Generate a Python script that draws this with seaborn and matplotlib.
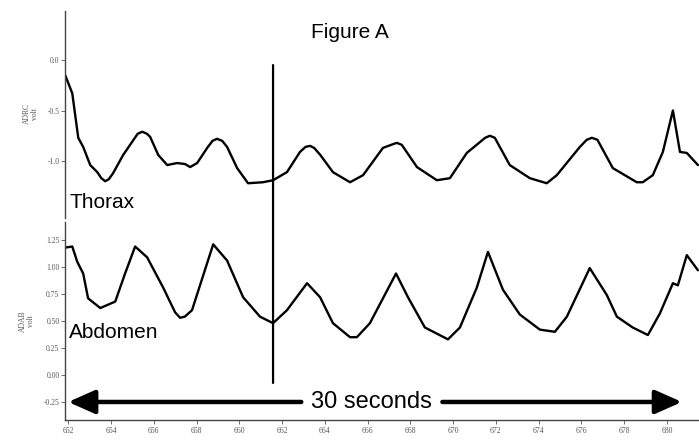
import numpy as np
import pandas as pd
import matplotlib
matplotlib.use('Agg')
import matplotlib.pyplot as plt
from matplotlib.patches import ConnectionPatch
import seaborn as sns

# Trace values (time in s, amplitude in volt)
thorax_t = [651.86, 652.19, 652.47, 652.70, 653.03, 653.36, 653.55, 653.73, 653.90,
            654.10, 654.57, 654.99, 655.25, 655.46, 655.68, 655.83, 656.21, 656.63,
            657.09, 657.47, 657.70, 658.03, 658.50, 658.75, 658.96, 659.20, 659.43,
            659.90, 660.41, 661.11, 661.58, 662.23, 662.84, 663.10, 663.31, 663.50,
            663.79, 664.38, 665.18, 665.79, 666.72, 667.10, 667.37, 667.60, 668.31,
            669.24, 669.85, 670.64, 671.50, 671.72, 671.95, 672.65, 673.59, 674.38,
            674.85, 675.93, 676.25, 676.49, 676.75, 677.47, 678.59, 678.87, 679.34,
            679.81, 680.28, 680.61, 680.93, 681.45]
thorax_v = [-0.15, -0.33, -0.77, -0.86, -1.04, -1.11, -1.17, -1.20, -1.18,
            -1.12, -0.94, -0.81, -0.73, -0.71, -0.73, -0.76, -0.94, -1.04,
            -1.02, -1.03, -1.06, -1.02, -0.87, -0.80, -0.78, -0.80, -0.86,
            -1.07, -1.22, -1.21, -1.19, -1.11, -0.91, -0.86, -0.85, -0.87,
            -0.94, -1.11, -1.21, -1.14, -0.87, -0.84, -0.82, -0.84, -1.06,
            -1.19, -1.17, -0.92, -0.77, -0.75, -0.77, -1.04, -1.17, -1.22,
            -1.14, -0.86, -0.79, -0.77, -0.79, -1.07, -1.21, -1.21, -1.14,
            -0.91, -0.50, -0.91, -0.92, -1.04]

abdomen_t = [651.86, 652.19, 652.42, 652.70, 652.93, 653.50, 654.20, 654.66, 655.13,
             655.69, 656.44, 657.00, 657.23, 657.45, 657.79, 658.78, 659.43, 660.18,
             660.97, 661.58, 662.23, 663.17, 663.78, 664.38, 665.18, 665.50, 666.11,
             666.72, 667.33, 667.89, 668.68, 669.76, 670.32, 671.11, 671.63, 672.33,
             673.12, 674.06, 674.76, 675.32, 676.39, 677.19, 677.66, 678.40, 679.11,
             679.67, 680.28, 680.51, 680.93, 681.45]
abdomen_v = [1.18, 1.19, 1.05, 0.94, 0.71, 0.62, 0.68, 0.94, 1.19,
             1.09, 0.81, 0.58, 0.53, 0.54, 0.60, 1.21, 1.06, 0.72,
             0.54, 0.48, 0.60, 0.85, 0.72, 0.48, 0.35, 0.35, 0.48,
             0.71, 0.94, 0.72, 0.44, 0.33, 0.44, 0.81, 1.14, 0.79,
             0.56, 0.42, 0.40, 0.54, 0.99, 0.74, 0.54, 0.44, 0.37,
             0.57, 0.85, 0.83, 1.11, 0.97]

marker_t = 661.58
span_start, span_end = 652.0, 680.7

thorax_ticks = [0.0, -0.5, -1.0]
thorax_ticklabels = ['0.0', '-0.5', '-1.0']
abdomen_ticks = [1.25, 1.00, 0.75, 0.50, 0.25, 0.00, -0.25]
abdomen_ticklabels = ['1.25', '1.00', '0.75', '0.50', '0.25', '0.00', '-0.25']
x_ticks = list(range(652, 681, 2))

df_th = pd.DataFrame({'t': thorax_t, 'v': thorax_v})
df_ab = pd.DataFrame({'t': abdomen_t, 'v': abdomen_v})

sns.set_style('white')
plt.rcParams['font.family'] = ['Liberation Sans', 'DejaVu Sans']
plt.rcParams['text.color'] = 'black'

fig = plt.figure(figsize=(6.99, 4.40), dpi=100)
ax1 = fig.add_axes([65/699, 1 - 218/440, 634/699, 208/440])
ax2 = fig.add_axes([65/699, 20/440, 634/699, 198/440])

sns.lineplot(data=df_th, x='t', y='v', ax=ax1, color='black', lw=1.7,
             solid_joinstyle='round')
sns.lineplot(data=df_ab, x='t', y='v', ax=ax2, color='black', lw=1.7,
             solid_joinstyle='round')

xlim = (651.85, 681.5)
ax1.set_xlim(xlim)
ax2.set_xlim(xlim)
ax1.set_ylim(-1.564, 0.495)
ax2.set_ylim(-0.417, 1.417)

tick_font = dict(family='Liberation Serif', size=5.5, color='#555555')
spine_style = dict(color='#444444', lw=1.0, ls=(0, (1, 1)))

for ax in (ax1, ax2):
    for s in ['top', 'right']:
        ax.spines[s].set_visible(False)
    ax.spines['left'].set(**spine_style)
    ax.set_xlabel('')
    ax.tick_params(axis='y', length=3, width=0.6, color='#555555', pad=1, left=True)

ax1.spines['bottom'].set_visible(False)
ax1.set_xticks([])
ax1.set_yticks(thorax_ticks)
ax1.set_yticklabels(thorax_ticklabels, fontdict=tick_font)
ax1.set_ylabel('ADRC\nvolt', fontdict=tick_font, labelpad=6, linespacing=1.0)

ax2.spines['bottom'].set(**spine_style)
ax2.set_xticks(x_ticks)
ax2.set_xticklabels([str(t) for t in x_ticks], fontdict=tick_font)
ax2.tick_params(axis='x', length=3, width=0.6, color='#555555', pad=2, bottom=True)
ax2.set_yticks(abdomen_ticks)
ax2.set_yticklabels(abdomen_ticklabels, fontdict=tick_font)
ax2.set_ylabel('ADAB\nvolt', fontdict=tick_font, labelpad=6, linespacing=1.0)

# panel labels
ax1.text(652.05, -1.465, 'Thorax', fontsize=15, va='baseline', ha='left', color='black')
ax2.text(652.05, 0.34, 'Abdomen', fontsize=15, va='baseline', ha='left', color='black')
ax1.text((350 - 65) / 634, 1 - 22 / 208, 'Figure A', transform=ax1.transAxes,
         fontsize=15, ha='center', va='center', color='black')

# event marker spanning both panels
con = ConnectionPatch(xyA=(marker_t, -0.05), coordsA=ax1.transData,
                      xyB=(marker_t, -0.074), coordsB=ax2.transData,
                      color='black', lw=1.6)
fig.add_artist(con)

# 30 seconds span
mid = 666.2
ax2.text(mid, -0.25, '30 seconds', fontsize=17, ha='center', va='center', color='black')
arrow = dict(arrowstyle='-|>,head_length=0.9,head_width=0.4', lw=3.2,
             color='black', mutation_scale=18, shrinkA=0, shrinkB=0)
ax2.annotate('', xy=(span_start, -0.25), xytext=(662.9, -0.25), arrowprops=arrow)
ax2.annotate('', xy=(span_end, -0.25), xytext=(669.5, -0.25), arrowprops=arrow)

fig.savefig('out.png', dpi=100)
